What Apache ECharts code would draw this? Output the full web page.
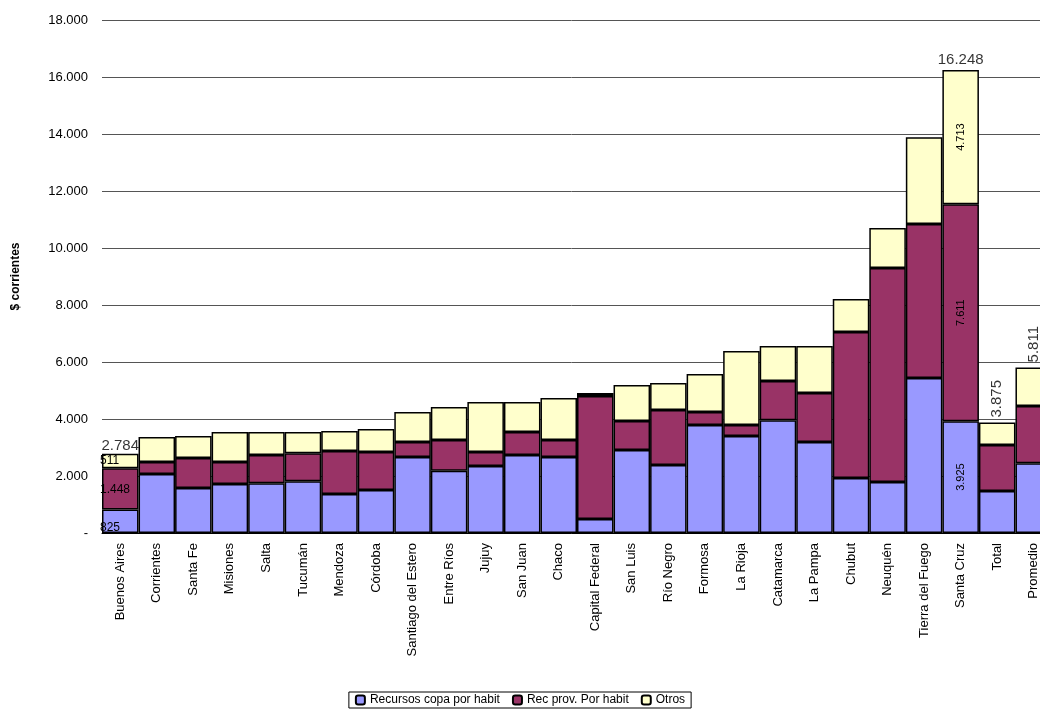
<!DOCTYPE html>
<title>recursos</title>
<style>
body { margin: 0; }
#echart { height: 709px; width: 1040px; }
</style>
<div id='echart'></div>
<script src='https://cdn.jsdelivr.net/npm/echarts@6/dist/echarts.min.js'></script>
<script>
let provincias = ['Buenos Aires', 'Corrientes', 'Santa Fe', 'Misiones', 'Salta', 'Tucumán', 'Mendoza', 'Córdoba', 'Santiago del Estero', 'Entre Ríos', 'Jujuy', 'San Juan', 'Chaco', 'Capital Federal', 'San Luis', 'Río Negro', 'Formosa', 'La Rioja', 'Catamarca', 'La Pampa', 'Chubut', 'Neuquén', 'Tierra del Fuego', 'Santa Cruz', 'Total', 'Promedio']
let copa = [825, 2070, 1580, 1720, 1750, 1820, 1370, 1510, 2670, 2180, 2350, 2740, 2670, 490, 2910, 2390, 3790, 3400, 3960, 3190, 1930, 1790, 5440, 3925, 1470, 2450]
let prov = [1448, 420, 1050, 770, 990, 980, 1510, 1330, 520, 1080, 490, 800, 590, 4320, 1020, 1930, 460, 390, 1370, 1720, 5120, 7510, 5400, 7611, 1620, 2010]
let otros = [511, 880, 770, 1050, 800, 740, 700, 810, 1060, 1160, 1760, 1060, 1480, 100, 1260, 940, 1330, 2600, 1230, 1650, 1160, 1400, 3050, 4713, 785, 1351]
// published totals for the labelled bars
let totales = {0: 2784, 23: 16248, 24: 3875, 25: 5811}
let totalRot = {0: 'h', 23: 'h', 24: 'v', 25: 'v'}
let inside = {0: 'h', 23: 'v'}

function fmt(v) {
    return v === 0 ? '-' : String(Math.round(v)).replace(/\B(?=(\d{3})+(?!\d))/g, '.')
}
function segData(arr, hpos) {
    return arr.map(function (v, i) {
        let item = {value: v}
        if (inside[i] == 'v') {
            item.label = {show: true, position: 'inside', rotate: 90, fontSize: 11, color: '#000', formatter: fmt(v)}
        } else if (inside[i] == 'h') {
            item.label = {show: true, position: hpos, distance: 0, offset: [-2, 1], fontSize: 12, color: '#000', formatter: fmt(v)}
        }
        return item
    })
}
let totalData = provincias.map(function (c, i) {
    let t = copa[i] + prov[i] + otros[i]
    let item = {value: t}
    if (totales[i]) {
        let v = totalRot[i] == 'v'
        item.label = {show: true, position: 'top', fontSize: 15, color: '#000',
            rotate: v ? 90 : 0, align: v ? 'left' : 'center', verticalAlign: v ? 'middle' : 'bottom',
            offset: i == 0 ? [0, 3] : [0, 0], distance: v ? 5 : 3, formatter: fmt(totales[i])}
    }
    return item
})
let base = {type: 'bar', stack: 'a', barCategoryGap: 0, itemStyle: {borderColor: '#000', borderWidth: 1.5}}
let echart = echarts.init(document.querySelector('#echart'))
echart.setOption({
    animation: false,
    textStyle: {fontFamily: 'Arial, Liberation Sans, sans-serif'},
    grid: {left: 102, width: 950, top: 20, bottom: 176, outerBoundsMode: 'none', containLabel: false},
    legend: {bottom: 1, left: 'center', itemWidth: 9, itemHeight: 9, itemGap: 12, borderColor: '#000', borderWidth: 1, padding: [2, 6],
        textStyle: {fontSize: 12, color: '#000'}, data: ['Recursos copa por habit', 'Rec prov. Por habit', 'Otros']},
    xAxis: {type: 'category', data: provincias, axisTick: {show: false},
        axisLine: {lineStyle: {color: '#000', width: 1}},
        axisLabel: {rotate: 90, fontSize: 13, color: '#000', interval: 0, margin: 10}},
    yAxis: {type: 'value', min: 0, max: 18000, interval: 2000, name: '$ corrientes', nameLocation: 'middle', nameGap: 80, nameRotate: 90,
        nameTextStyle: {fontSize: 12, fontWeight: 'bold', color: '#000'},
        axisLabel: {fontSize: 13, color: '#000', formatter: fmt, margin: 14},
        splitLine: {lineStyle: {color: '#555', width: 1}}},
    series: [
        {...base, name: 'Recursos copa por habit', data: segData(copa, 'insideBottomLeft'), itemStyle: {...base.itemStyle, color: '#9999ff'}},
        {...base, name: 'Rec prov. Por habit', data: segData(prov, 'insideLeft'), itemStyle: {...base.itemStyle, color: '#993366'}},
        {...base, name: 'Otros', data: segData(otros, 'insideTopLeft'), itemStyle: {...base.itemStyle, color: '#ffffcc'}},
        {type: 'scatter', name: 'total', data: totalData, symbolSize: 0, z: 10},
    ],
})
</script>
